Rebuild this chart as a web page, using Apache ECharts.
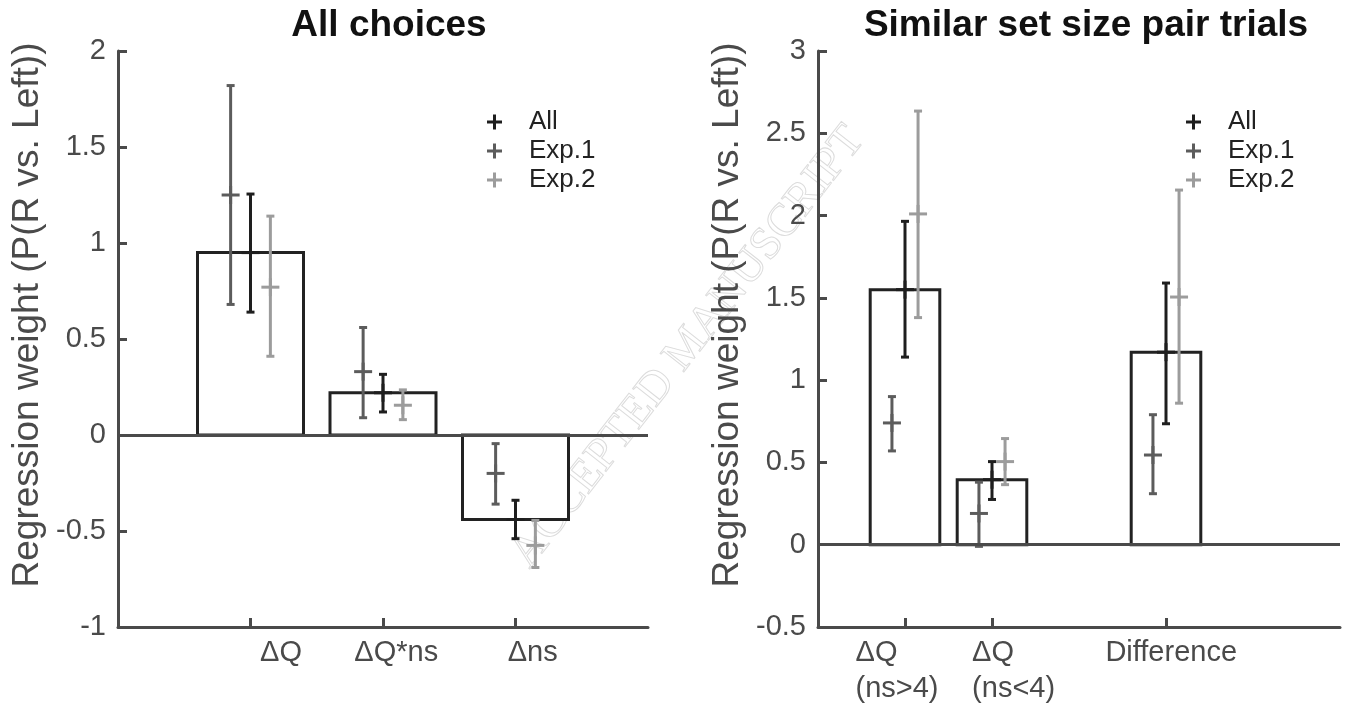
<!DOCTYPE html>
<html>
<head>
<meta charset="utf-8">
<title>Regression weights</title>
<script src="https://cdn.jsdelivr.net/npm/echarts@6/dist/echarts.min.js"></script>
<style>
  html, body { margin: 0; padding: 0; background: #fff; }
  #chart { width: 1350px; height: 713px; }
</style>
</head>
<body>
<div id="chart"></div>
<script>
// ---- data ----
var leftCategories = ['ΔQ', 'ΔQ*ns', 'Δns'];
var leftPositions = [1, 2, 3];
var leftAll = [0.95, 0.22, -0.44];
var leftAllLow = [0.64, 0.12, -0.54];
var leftAllHigh = [1.255, 0.316, -0.34];
var leftExp1 = [1.25, 0.33, -0.20];
var leftExp1Low = [0.68, 0.09, -0.36];
var leftExp1High = [1.82, 0.56, -0.045];
var leftExp2 = [0.77, 0.155, -0.575];
var leftExp2Low = [0.41, 0.08, -0.69];
var leftExp2High = [1.14, 0.235, -0.445];

var rightCategories = ['ΔQ\n(ns>4)', 'ΔQ\n(ns<4)', 'Difference'];
var rightPositions = [1, 2, 4];
var rightAll = [1.55, 0.395, 1.17];
var rightAllLow = [1.14, 0.275, 0.735];
var rightAllHigh = [1.965, 0.505, 1.59];
var rightExp1 = [0.74, 0.19, 0.545];
var rightExp1Low = [0.57, -0.01, 0.31];
var rightExp1High = [0.90, 0.38, 0.79];
var rightExp2 = [2.01, 0.505, 1.505];
var rightExp2Low = [1.38, 0.365, 0.86];
var rightExp2High = [2.635, 0.645, 2.155];

var leftYTicks = [-1, 2, 0.5];   // min, max, step
var rightYTicks = [-0.5, 3, 0.5];

// ---- styling ----
var FONT = '"Liberation Sans", Arial, sans-serif';
var AXIS = '#4a4a4a';
var colors = { 'All': '#1e1e1e', 'Exp.1': '#5c5c5c', 'Exp.2': '#9c9c9c' };
var BAR_W = 0.8;
var SHIFT = 0.15;
var plusIcon = 'path://M4,0H6V4H10V6H6V10H4V6H0V4H4Z';
// tick labels in the original sit a little off their ticks (axis units)
var leftLabelNudge = [0.23, 0.1, 0.13];
var rightLabelNudge = [-0.04, 0.3, 0.06];

function barData(pos, vals) {
  return pos.map(function (p, i) { return [p, vals[i]]; });
}
function errData(pos, shift, mean, low, high) {
  return pos.map(function (p, i) { return [p + shift, mean[i], low[i], high[i]]; });
}

function renderBar(params, api) {
  var x = api.value(0), y = api.value(1);
  var a = api.coord([x - BAR_W / 2, y]);
  var b = api.coord([x + BAR_W / 2, 0]);
  return {
    type: 'rect',
    shape: { x: Math.min(a[0], b[0]), y: Math.min(a[1], b[1]),
             width: Math.abs(b[0] - a[0]), height: Math.abs(b[1] - a[1]) },
    style: { fill: '#fff', stroke: '#222', lineWidth: 3 }
  };
}

function makeErrRenderer(color) {
  return function (params, api) {
    var x = api.value(0);
    var m = api.coord([x, api.value(1)]);
    var lo = api.coord([x, api.value(2)]);
    var hi = api.coord([x, api.value(3)]);
    var st = { stroke: color, lineWidth: 3, fill: null };
    var cap = 4, arm = 9;
    return {
      type: 'group',
      children: [
        { type: 'line', shape: { x1: lo[0], y1: lo[1], x2: hi[0], y2: hi[1] }, style: st },
        { type: 'line', shape: { x1: lo[0] - cap, y1: lo[1], x2: lo[0] + cap, y2: lo[1] }, style: st },
        { type: 'line', shape: { x1: hi[0] - cap, y1: hi[1], x2: hi[0] + cap, y2: hi[1] }, style: st },
        { type: 'line', shape: { x1: m[0] - arm, y1: m[1], x2: m[0] + arm, y2: m[1] }, style: st },
        { type: 'line', shape: { x1: m[0], y1: m[1] - arm, x2: m[0], y2: m[1] + arm }, style: st }
      ]
    };
  };
}

function panelSeries(idx, pos, all, allLo, allHi, e1, e1Lo, e1Hi, e2, e2Lo, e2Hi) {
  return [
    {
      type: 'custom', name: 'bars' + idx, xAxisIndex: idx, yAxisIndex: idx,
      renderItem: renderBar, data: barData(pos, all), silent: true, z: 2,
      markLine: {
        silent: true, symbol: 'none', label: { show: false },
        lineStyle: { color: AXIS, width: 3, type: 'solid' },
        data: [{ yAxis: 0 }]
      }
    },
    {
      type: 'custom', name: 'Exp.1', xAxisIndex: idx, yAxisIndex: idx, z: 3,
      itemStyle: { color: colors['Exp.1'] },
      renderItem: makeErrRenderer(colors['Exp.1']),
      data: errData(pos, -SHIFT, e1, e1Lo, e1Hi)
    },
    {
      type: 'custom', name: 'All', xAxisIndex: idx, yAxisIndex: idx, z: 4,
      itemStyle: { color: colors['All'] },
      renderItem: makeErrRenderer(colors['All']),
      data: errData(pos, 0, all, allLo, allHi)
    },
    {
      type: 'custom', name: 'Exp.2', xAxisIndex: idx, yAxisIndex: idx, z: 5,
      itemStyle: { color: colors['Exp.2'] },
      renderItem: makeErrRenderer(colors['Exp.2']),
      data: errData(pos, SHIFT, e2, e2Lo, e2Hi)
    }
  ];
}

// two-line labels keep their lines left aligned, like the original
var labelRich = {
  one: { fontSize: 29, fontFamily: FONT, color: AXIS, lineHeight: 36 },
  two: { fontSize: 29, fontFamily: FONT, color: AXIS, lineHeight: 36, width: 92, align: 'left' }
};
function labelFormatter(values, cats) {
  return function (v) {
    for (var i = 0; i < values.length; i++) {
      if (Math.abs(values[i] - v) < 1e-6) {
        var lines = cats[i].split('\n');
        var key = lines.length > 1 ? 'two' : 'one';
        return lines.map(function (s) { return '{' + key + '|' + s + '}'; }).join('\n');
      }
    }
    return '';
  };
}

function xAxis(idx, max, pos, cats, nudge) {
  var labelValues = pos.map(function (p, i) { return p + nudge[i]; });
  return {
    gridIndex: idx, type: 'value', min: 0, max: max,
    axisLine: { show: true, onZero: false, lineStyle: { color: AXIS, width: 3 } },
    axisTick: { show: true, inside: true, length: 9, customValues: pos,
                lineStyle: { color: AXIS, width: 3 } },
    axisLabel: { show: true, customValues: labelValues, margin: 8, hideOverlap: false,
                 formatter: labelFormatter(labelValues, cats), rich: labelRich },
    splitLine: { show: false }
  };
}
function yAxis(idx, ticks) {
  return {
    gridIndex: idx, type: 'value', min: ticks[0], max: ticks[1], interval: ticks[2],
    name: 'Regression weight (P(R vs. Left))',
    nameLocation: 'middle', nameRotate: 90, nameGap: 72,
    nameTextStyle: { fontSize: 37, color: AXIS, fontFamily: FONT, padding: [0, 0, 0, 48] },
    axisLine: { show: true, lineStyle: { color: AXIS, width: 3 } },
    axisTick: { show: true, inside: true, length: 9, lineStyle: { color: AXIS, width: 3 } },
    axisLabel: { fontSize: 29, color: AXIS, fontFamily: FONT, margin: 12 },
    splitLine: { show: false }
  };
}
function legend(left) {
  return {
    left: left, top: 104, orient: 'vertical', itemGap: 3,
    itemWidth: 15, itemHeight: 15, icon: plusIcon,
    data: ['All', 'Exp.1', 'Exp.2'],
    textStyle: { fontSize: 26, color: '#222', fontFamily: FONT, padding: [0, 0, 0, 22] },
    selectedMode: false
  };
}

var chart = echarts.init(document.getElementById('chart'));
chart.setOption({
  animation: false,
  backgroundColor: '#fff',
  textStyle: { fontFamily: FONT },
  title: [
    { text: 'All choices', left: 384, top: 2, textAlign: 'center',
      textStyle: { fontSize: 37, fontWeight: 'bold', color: '#111', fontFamily: FONT } },
    { text: 'Similar set size pair trials', left: 1081, top: 2, textAlign: 'center',
      textStyle: { fontSize: 37, fontWeight: 'bold', color: '#111', fontFamily: FONT } }
  ],
  legend: [legend(482), legend(1181)],
  grid: [
    { left: 118, top: 51, width: 530, height: 576 },
    { left: 818, top: 51, width: 522, height: 576 }
  ],
  xAxis: [
    xAxis(0, 4, leftPositions, leftCategories, leftLabelNudge),
    xAxis(1, 6, rightPositions, rightCategories, rightLabelNudge)
  ],
  yAxis: [yAxis(0, leftYTicks), yAxis(1, rightYTicks)],
  graphic: [{
    type: 'text', x: 688, y: 347, rotation: 52 * Math.PI / 180, z: -10, silent: true,
    style: { text: 'ACCEPTED MANUSCRIPT', font: '46px "Liberation Serif", serif',
             fill: 'rgba(0,0,0,0)', stroke: '#dcdcdc', lineWidth: 1,
             align: 'center', verticalAlign: 'middle',
             textAlign: 'center', textVerticalAlign: 'middle' }
  }],
  series: []
    .concat(panelSeries(0, leftPositions, leftAll, leftAllLow, leftAllHigh,
      leftExp1, leftExp1Low, leftExp1High, leftExp2, leftExp2Low, leftExp2High))
    .concat(panelSeries(1, rightPositions, rightAll, rightAllLow, rightAllHigh,
      rightExp1, rightExp1Low, rightExp1High, rightExp2, rightExp2Low, rightExp2High))
});
</script>
</body>
</html>
